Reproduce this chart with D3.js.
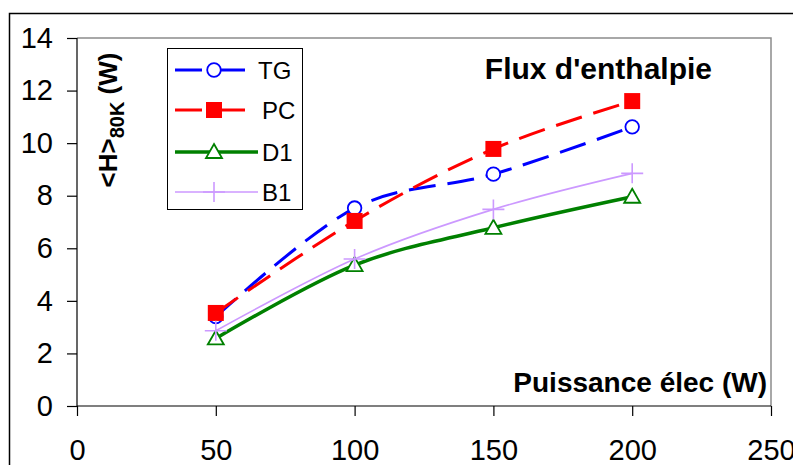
<!DOCTYPE html>
<html><head><meta charset="utf-8">
<script src="https://cdn.jsdelivr.net/npm/d3@7"></script>
<style>
html,body{margin:0;padding:0;background:#fff;}
svg{display:block;font-family:"Liberation Sans",Arial,sans-serif;}
</style></head>
<body>
<svg id="chart" width="793" height="465"></svg>
<script>
const xValues = [50, 100, 150, 200];
const seriesNames = ["TG", "PC", "D1", "B1"];
const tgValues = [3.4, 7.53, 8.82, 10.62];
const pcValues = [3.54, 7.04, 9.78, 11.6];
const d1Values = [2.57, 5.36, 6.78, 7.96];
const b1Values = [2.86, 5.59, 7.48, 8.85];
const xTicks = [0, 50, 100, 150, 200, 250];
const yTicks = [0, 2, 4, 6, 8, 10, 12, 14];

const svg = d3.select("#chart");
const L = 77, R = 771, T = 38, B = 406;
const x = d3.scaleLinear().domain([0, 250]).range([L, R]);
const y = d3.scaleLinear().domain([0, 14]).range([B, T]);

// outer chart frame
svg.append("path").attr("d", `M9.5,470 V13.5 H800`).attr("fill","none").attr("stroke","#000").attr("stroke-width",1.5);

// plot area border (gray top/right)
svg.append("path").attr("d", `M${L},${T} H${R} V${B}`).attr("fill","none").attr("stroke","#8c8c8c").attr("stroke-width",1.5);

// axes
const yAxis = d3.axisLeft(y).tickValues(yTicks).tickSize(10).tickPadding(14).tickFormat(d3.format("d"));
const gy = svg.append("g").attr("transform", `translate(${L},0)`).call(yAxis);
const xAxis = d3.axisBottom(x).tickValues(xTicks).tickSize(10).tickPadding(23).tickFormat(d3.format("d"));
const gx = svg.append("g").attr("transform", `translate(0,${B})`).call(xAxis);
[gx, gy].forEach(g => {
  g.select(".domain").attr("stroke","#000").attr("stroke-width",1.2);
  g.selectAll(".tick line").attr("stroke","#000").attr("stroke-width",1.2);
  g.selectAll(".tick text").attr("fill","#000").style("font-size","29px").style("font-family","'Liberation Sans',Arial,sans-serif");
});
gy.select(".domain").attr("d", `M0,${B}V${T}`);
gx.select(".domain").attr("d", `M${L},0H${R}`);
gx.selectAll(".tick text").attr("dy","0.71em");

const series = [
  {name: seriesNames[0], values: tgValues, color: "#0000ff", width: 3, dash: "27,12", marker: "circle"},
  {name: seriesNames[1], values: pcValues, color: "#ff0000", width: 3, dash: "27,12", marker: "square"},
  {name: seriesNames[2], values: d1Values, color: "#008000", width: 3.5, dash: null, marker: "triangle"},
  {name: seriesNames[3], values: b1Values, color: "#cc99ff", width: 1.6, dash: null, marker: "plus"}
];

const line = d3.line().x(d => x(d[0])).y(d => y(d[1])).curve(d3.curveCardinal.tension(0));

function drawMarker(g, type, cx, cy, color) {
  if (type === "circle") {
    g.append("circle").attr("cx",cx).attr("cy",cy).attr("r",6.8).attr("fill","#fff").attr("stroke",color).attr("stroke-width",1.8);
  } else if (type === "square") {
    g.append("rect").attr("x",cx-8).attr("y",cy-8).attr("width",16).attr("height",16).attr("fill",color);
  } else if (type === "triangle") {
    g.append("path").attr("d",`M${cx},${cy-8} L${cx+8},${cy+6} L${cx-8},${cy+6} Z`).attr("fill","#fff").attr("stroke",color).attr("stroke-width",1.8);
  } else if (type === "plus") {
    g.append("path").attr("d",`M${cx-11},${cy} H${cx+11} M${cx},${cy-10} V${cy+10}`).attr("fill","none").attr("stroke",color).attr("stroke-width",1.6);
  }
}

series.forEach(s => {
  const g = svg.append("g");
  const pts = xValues.map((xv, i) => [xv, s.values[i]]);
  g.append("path").attr("d", line(pts)).attr("fill","none").attr("stroke", s.color)
    .attr("stroke-width", s.width).attr("stroke-dasharray", s.dash);
  pts.forEach(p => drawMarker(g, s.marker, x(p[0]), y(p[1]), s.color));
});

// legend
const lg = svg.append("g");
lg.append("rect").attr("x",167.5).attr("y",48.5).attr("width",135).attr("height",161).attr("fill","#fff").attr("stroke","#000").attr("stroke-width",1);
const legY = [70, 110, 152, 192];
series.forEach((s, i) => {
  const yy = legY[i];
  const x2 = s.dash ? 245 : 258;
  lg.append("path").attr("d", `M175,${yy} H${x2}`).attr("stroke", s.color).attr("stroke-width", s.width)
    .attr("stroke-dasharray", s.dash ? "27,5,60" : null);
  drawMarker(lg, s.marker, 214, yy, s.color);
  lg.append("text").attr("x", i === 0 ? 258 : 262).attr("y", yy + 8.5).text(s.name)
    .style("font-size","24px").attr("fill","#000");
});

// titles
svg.append("text").attr("x",712).attr("y",79).attr("text-anchor","end")
  .style("font-size","30px").style("font-weight","bold").text("Flux d'enthalpie");
svg.append("text").attr("x",767).attr("y",392).attr("text-anchor","end")
  .style("font-size","28px").style("font-weight","bold").text("Puissance élec (W)");

const yt = svg.append("text").attr("transform","translate(117,120) rotate(-90)").attr("text-anchor","middle")
  .style("font-size","26px").style("font-weight","bold");
yt.append("tspan").text("<H>");
yt.append("tspan").attr("dy", 7).style("font-size","20px").text("80K");
yt.append("tspan").attr("dy", -7).text(" (W)");
</script>
</body></html>
